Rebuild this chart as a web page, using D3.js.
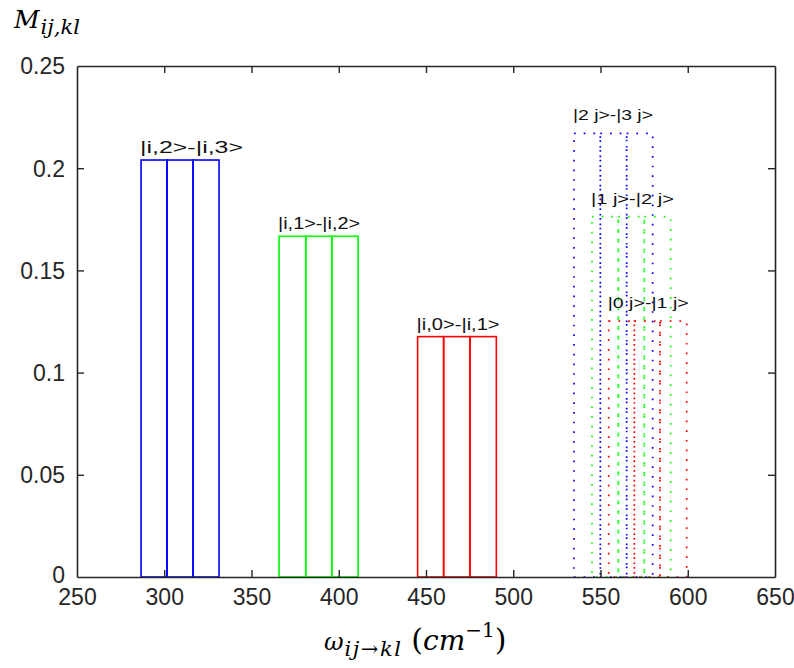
<!DOCTYPE html>
<html>
<head>
<meta charset="utf-8">
<script src="https://cdn.jsdelivr.net/npm/d3@7"></script>
<style>
  html, body { margin: 0; padding: 0; background: #fff; }
  svg { display: block; }
</style>
</head>
<body>
<svg id="chart" width="794" height="668"></svg>
<script>
// ---------- data ----------
const seriesLabels = ["|i,2>-|i,3>", "|i,1>-|i,2>", "|i,0>-|i,1>", "|2 j>-|3 j>", "|1 j>-|2 j>", "|0 j>-|1 j>"];
const seriesColors = ["#0000ff", "#00ff00", "#ff0000", "#0000ff", "#00ff00", "#ff0000"];
const seriesDotted = [false, false, false, true, true, true];
// bar edges (cm^-1): 3 adjacent bars per series
const barEdges = [
  [286.7, 301.6, 316.5, 331.4],
  [365.8, 381.1, 396.0, 411.1],
  [445.2, 460.1, 475.2, 490.3],
  [534.8, 549.9, 565.0, 579.9],
  [545.1, 560.2, 575.1, 590.2],
  [554.7, 569.4, 584.1, 599.4]
];
// bar heights M_ij,kl (3 bars per series)
const barValues = [
  [0.204, 0.204, 0.204],
  [0.1667, 0.1667, 0.1667],
  [0.1176, 0.1176, 0.1176],
  [0.217, 0.217, 0.217],
  [0.1763, 0.1763, 0.1763],
  [0.1252, 0.1252, 0.1252]
];
const xTicks = [250, 300, 350, 400, 450, 500, 550, 600, 650];
const yTicks = [0, 0.05, 0.1, 0.15, 0.2, 0.25];
const yTickLabels = ["0", "0.05", "0.1", "0.15", "0.2", "0.25"];

// ---------- layout ----------
const L = 77, R = 775, T = 66, B = 577;
const svg = d3.select("#chart");
const x = d3.scaleLinear().domain([250, 650]).range([L, R]);
const y = d3.scaleLinear().domain([0, 0.25]).range([B, T]);
const axisColor = "#262626";
const tickFont = "'Liberation Sans', Arial, sans-serif";

// ---------- bars ----------
const gBars = svg.append("g");
seriesLabels.forEach((lab, s) => {
  const g = gBars.append("g");
  const bars = barValues[s].map((v, i) => ({x0: barEdges[s][i], x1: barEdges[s][i + 1], v}));
  g.selectAll("rect").data(bars).join("rect")
    .attr("x", d => x(d.x0))
    .attr("y", d => y(d.v))
    .attr("width", d => x(d.x1) - x(d.x0))
    .attr("height", d => y(0) - y(d.v))
    .attr("fill", "none")
    .attr("stroke", seriesColors[s])
    .attr("stroke-width", seriesDotted[s] ? 1.7 : 1.6)
    .attr("stroke-dasharray", seriesDotted[s] ? "1.7 8" : null);
});

// ---------- labels ----------
const labelWidths = [103, 82, 83, 80, 83, 81];
seriesLabels.forEach((lab, s) => {
  const dotted = seriesDotted[s];
  svg.append("text")
    .attr("x", x(barEdges[s][0]) - 1)
    .attr("y", y(barValues[s][0]) - (dotted ? 13 : 7))
    .attr("font-family", tickFont)
    .attr("font-size", dotted ? 15.5 : 17)
    .attr("fill", "#111")
    .attr("textLength", labelWidths[s])
    .attr("lengthAdjust", "spacingAndGlyphs")
    .text(lab);
});

// ---------- axes ----------
const tickLen = 7;
const gx = svg.append("g").attr("transform", `translate(0,${B})`)
  .call(d3.axisBottom(x).tickValues(xTicks).tickFormat(d3.format("d"))
        .tickSizeInner(-tickLen).tickSizeOuter(0).tickPadding(12));
const gxt = svg.append("g").attr("transform", `translate(0,${T})`)
  .call(d3.axisTop(x).tickValues(xTicks).tickFormat("")
        .tickSizeInner(-tickLen).tickSizeOuter(0));
const gy = svg.append("g").attr("transform", `translate(${L},0)`)
  .call(d3.axisLeft(y).tickValues(yTicks).tickFormat((d, i) => yTickLabels[i])
        .tickSizeInner(-tickLen).tickSizeOuter(0).tickPadding(12));
const gyr = svg.append("g").attr("transform", `translate(${R},0)`)
  .call(d3.axisRight(y).tickValues(yTicks).tickFormat("")
        .tickSizeInner(-tickLen).tickSizeOuter(0));

[gx, gxt, gy, gyr].forEach(g => {
  g.selectAll(".domain").attr("stroke", axisColor).attr("stroke-width", 1.6);
  g.selectAll(".tick line").attr("stroke", axisColor).attr("stroke-width", 1.4);
  g.selectAll(".tick text").attr("font-family", tickFont).attr("font-size", 23).attr("fill", axisColor);
});
// hide end ticks that coincide with box edges
gx.selectAll(".tick").filter(d => d === 250 || d === 650).select("line").remove();
gxt.selectAll(".tick").filter(d => d === 250 || d === 650).select("line").remove();
gy.selectAll(".tick").filter(d => d === 0 || d === 0.25).select("line").remove();
gyr.selectAll(".tick").filter(d => d === 0 || d === 0.25).select("line").remove();
gy.selectAll(".tick text").attr("dy", "0.34em");
gy.selectAll(".tick").filter(d => d === 0).select("text").attr("dy", "0.22em");

// ---------- axis titles ----------
const serif = "'DejaVu Serif', 'Liberation Serif', serif";
const yt = svg.append("text").attr("x", 14).attr("y", 28)
  .attr("font-family", serif).attr("font-style", "italic").attr("fill", "#000");
yt.append("tspan").attr("font-size", 25).text("M");
yt.append("tspan").attr("font-size", 21).attr("dy", 6).attr("dx", 1).text("ij,kl");

const xt = svg.append("text").attr("x", 324).attr("y", 650)
  .attr("font-family", serif).attr("font-style", "italic").attr("fill", "#000");
xt.append("tspan").attr("font-size", 24).text("ω");
xt.append("tspan").attr("font-size", 21).attr("dy", 6).attr("dx", 1).attr("letter-spacing", 1.5).text("ij→kl");
xt.append("tspan").attr("font-size", 30).attr("dy", -6).attr("dx", 9).attr("font-style", "normal").text("(");
xt.append("tspan").attr("font-size", 28).text("cm");
xt.append("tspan").attr("font-size", 20).attr("dy", -13).attr("font-style", "normal").text("−1");
xt.append("tspan").attr("font-size", 30).attr("dy", 13).attr("font-style", "normal").text(")");
</script>
</body>
</html>
